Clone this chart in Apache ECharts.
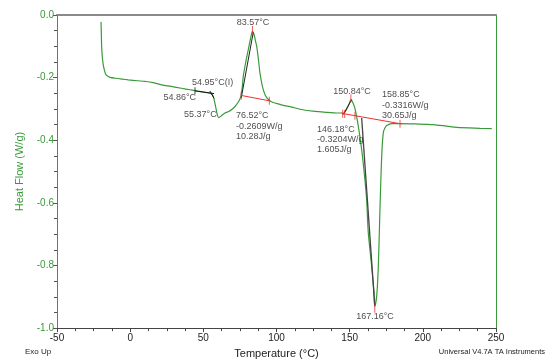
<!DOCTYPE html>
<html>
<head>
<meta charset="utf-8">
<script src="https://cdn.jsdelivr.net/npm/echarts@6/dist/echarts.min.js"></script>
<style>html,body{margin:0;padding:0;background:#fff}#c{width:547px;height:364px}</style>
</head>
<body>
<div id="c"></div>
<script>
// ---- Main DSC curve ----
const temps = [-19.9,-19.7,-19.45,-19.0,-18.4,-17.6,-16.7,-15.5,-13.8,-10,-5,-1.3,5,10,15,21.5,28,35,40,44.3,48,51,54.6,55.8,56.8,58.3,59.5,60.5,62.0,64.8,67.5,69.4,71.5,73.9,75.0,75.7,76.5,77.3,79,80.7,82.5,83.57,84.5,85.5,86.5,87.6,88.7,90,91.0,92.5,94.4,96.5,99.0,104,110.4,116.1,126.3,135,141,145.7,148,149.8,150.84,152.2,153.6,155.9,158.2,160.4,161.6,162.7,165.0,166.6,167.16,168.5,169.6,170.7,171.9,173.0,174.2,175.3,178.7,184.4,195,207,216.3,223.2,239.1,247.1];
const heatFlow = [-0.022,-0.06,-0.105,-0.135,-0.159,-0.176,-0.189,-0.195,-0.199,-0.202,-0.205,-0.207,-0.210,-0.212,-0.215,-0.223,-0.228,-0.234,-0.238,-0.242,-0.245,-0.247,-0.250,-0.253,-0.260,-0.290,-0.318,-0.328,-0.323,-0.313,-0.308,-0.302,-0.293,-0.278,-0.268,-0.258,-0.235,-0.196,-0.150,-0.111,-0.070,-0.052,-0.060,-0.080,-0.101,-0.140,-0.185,-0.220,-0.239,-0.258,-0.270,-0.277,-0.281,-0.288,-0.294,-0.301,-0.308,-0.311,-0.313,-0.313,-0.300,-0.282,-0.270,-0.280,-0.298,-0.355,-0.430,-0.525,-0.589,-0.694,-0.801,-0.885,-0.930,-0.896,-0.801,-0.620,-0.451,-0.375,-0.360,-0.353,-0.347,-0.347,-0.348,-0.350,-0.355,-0.359,-0.362,-0.363];

// ---- Analysis construction lines (data coordinates) ----
const tgBaseLine   = [[44.3,-0.242],[57.3,-0.251]];
const tgSlash      = [[54.5,-0.243],[57.3,-0.266]];
const exoTangent   = [[75.9,-0.265],[84.1,-0.056]];
const exoBaseline  = [[75.9,-0.257],[95.1,-0.274]];
const smallTangent = [[145.7,-0.318],[151.4,-0.270]];
const endoBaseline = [[144.5,-0.314],[185.5,-0.348]];
const endoTangent  = [[158.2,-0.329],[167.16,-0.930]];
const redTicks     = [[75.9,-0.258],[95.1,-0.274],[83.57,-0.048],[145.2,-0.315],[146.6,-0.316],[153.6,-0.322],[184.4,-0.347],[150.84,-0.266],[167.16,-0.938]];
const blackTicks   = [[44.3,-0.242]];

// ---- Annotation texts: [T, H, text, align] ----
const annotations = [
  [42.3,-0.2165,'54.95°C(I)','left'],
  [45.0,-0.264,'54.86°C','right'],
  [36.8,-0.318,'55.37°C','left'],
  [83.9,-0.0255,'83.57°C','center'],
  [72.3,-0.321,'76.52°C','left'],
  [72.3,-0.355,'-0.2609W/g','left'],
  [72.3,-0.389,'10.28J/g','left'],
  [151.6,-0.245,'150.84°C','center'],
  [172.1,-0.2545,'158.85°C','left'],
  [172.1,-0.288,'-0.3316W/g','left'],
  [172.1,-0.321,'30.65J/g','left'],
  [127.7,-0.366,'146.18°C','left'],
  [127.7,-0.398,'-0.3204W/g','left'],
  [127.7,-0.430,'1.605J/g','left'],
  [167.3,-0.964,'167.16°C','center']
];

const xTicks = {min:-50, max:250, interval:50};
const yTicks = {min:-1.0, max:0.0, interval:0.2};

const GREEN = '#3a9a3a';
const FONT = 'Liberation Sans, Arial, sans-serif';

function seg(data, color, w) {
  return {type:'line', data:data, symbol:'none', silent:true, animation:false,
          lineStyle:{color:color, width:w||1}, z:3};
}

const chart = echarts.init(document.getElementById('c'), null, {renderer:'canvas'});
chart.setOption({
  animation:false,
  backgroundColor:'#fff',
  textStyle:{fontFamily:FONT},
  grid:{left:57, right:51, top:15, bottom:35},
  xAxis:[{
    type:'value', min:xTicks.min, max:xTicks.max, interval:xTicks.interval,
    name:'Temperature (°C)', nameLocation:'middle', nameGap:19,
    nameTextStyle:{color:'#222', fontSize:11, fontFamily:FONT},
    axisLine:{show:true, onZero:false, lineStyle:{color:'#444', width:1}},
    axisTick:{show:true, length:4, inside:false, lineStyle:{color:'#444'}},
    minorTick:{show:true, splitNumber:4, length:3, lineStyle:{color:'#444'}},
    axisLabel:{color:'#222', fontSize:10, margin:5, fontFamily:FONT},
    splitLine:{show:false}
  },{
    type:'value', position:'top', min:xTicks.min, max:xTicks.max,
    axisLine:{show:true, onZero:false, lineStyle:{color:'#8a8a8a', width:2}},
    axisTick:{show:false}, minorTick:{show:false}, axisLabel:{show:false}, splitLine:{show:false}
  }],
  yAxis:[{
    type:'value', min:yTicks.min, max:yTicks.max, interval:yTicks.interval,
    name:'Heat Flow (W/g)', nameLocation:'middle', nameGap:27, nameRotate:90,
    nameTextStyle:{color:GREEN, fontSize:11, fontFamily:FONT},
    axisLine:{show:true, onZero:false, lineStyle:{color:GREEN, width:1}},
    axisTick:{show:true, length:4, lineStyle:{color:'#555'}},
    minorTick:{show:true, splitNumber:4, length:3, lineStyle:{color:'#555'}},
    axisLabel:{color:GREEN, fontSize:10, margin:3, fontFamily:FONT,
               formatter:function(v){return (Math.abs(v)<1e-9?0:v).toFixed(1);}},
    splitLine:{show:false}
  },{
    type:'value', position:'right', min:yTicks.min, max:yTicks.max,
    axisLine:{show:true, onZero:false, lineStyle:{color:GREEN, width:1}},
    axisTick:{show:false}, minorTick:{show:false}, axisLabel:{show:false}, splitLine:{show:false}
  }],
  series:[
    {type:'line', data:temps.map((t,i)=>[t,heatFlow[i]]), symbol:'none', smooth:0.3,
     lineStyle:{color:GREEN, width:1.2}, z:2, silent:true},
    seg(tgBaseLine,'#111'),
    seg(tgSlash,'#111'),
    seg(exoTangent,'#222'),
    seg(exoBaseline,'#f03030'),
    seg(smallTangent,'#222'),
    seg(endoBaseline,'#f03030'),
    seg(endoTangent,'#444',1.3),
    {type:'scatter', data:redTicks, symbol:'rect', symbolSize:[1,8], silent:true,
     itemStyle:{color:'#f03030'}, z:4},
    {type:'scatter', data:blackTicks, symbol:'rect', symbolSize:[1,7], silent:true,
     itemStyle:{color:'#111'}, z:4},
    {type:'scatter', symbolSize:0, silent:true, z:5,
     data:annotations.map(a=>({value:[a[0],a[1]], name:a[2],
       label:{align:a[3]}})),
     label:{show:true, position:[0,0], verticalAlign:'middle', color:'#222',
            fontSize:9, fontFamily:FONT, formatter:p=>p.name}}
  ],
  graphic:[
    {type:'text', left:25, top:348, style:{text:'Exo Up', fill:'#222', font:'8px '+FONT}},
    {type:'text', right:2, top:348, style:{text:'Universal V4.7A TA Instruments', fill:'#222', font:'7.5px '+FONT}}
  ]
});
</script>
</body>
</html>
